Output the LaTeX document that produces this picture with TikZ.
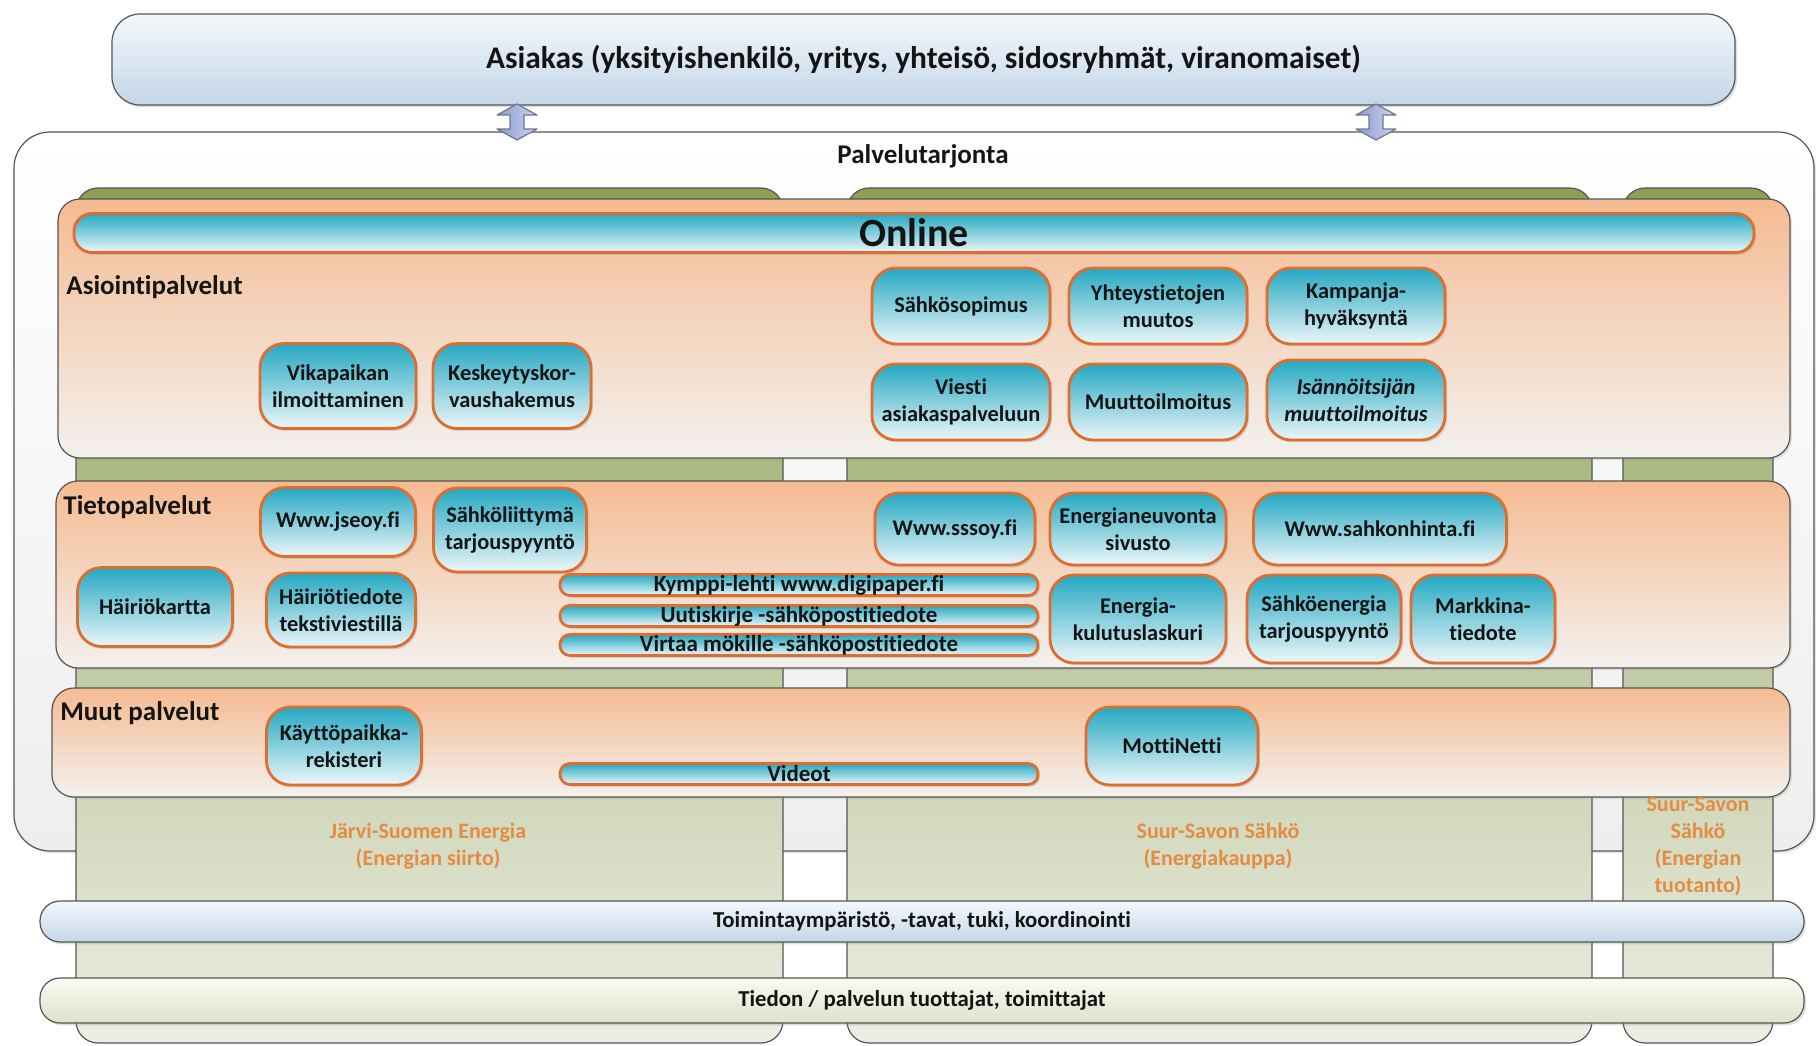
\documentclass[tikz,border=0pt]{standalone}
\usepackage{fontspec}
\setmainfont{Carlito}[Ligatures=NoCommon]
\usetikzlibrary{shadows}
\definecolor{tealtop}{RGB}{36,168,194}
\definecolor{tealbot}{RGB}{236,246,249}
\definecolor{boxline}{RGB}{222,110,48}
\definecolor{bandtop}{RGB}{245,187,146}
\definecolor{bandbot}{RGB}{243,241,238}
\definecolor{coltop}{RGB}{140,160,84}
\definecolor{colbot}{RGB}{236,238,228}
\definecolor{edgecol}{RGB}{85,85,85}
\definecolor{bluetop}{RGB}{244,248,252}
\definecolor{bluebot}{RGB}{196,214,232}
\definecolor{creamtop}{RGB}{250,250,242}
\definecolor{creambot}{RGB}{222,226,204}
\definecolor{palbot}{RGB}{238,238,238}
\definecolor{labelcol}{RGB}{226,140,68}
\definecolor{arrowtop}{RGB}{206,212,238}
\definecolor{arrowbot}{RGB}{140,154,206}
\definecolor{arrowline}{RGB}{110,118,150}
\definecolor{textcol}{RGB}{20,20,20}

\begin{document}
\begin{tikzpicture}[x=0.5pt,y=-0.5pt,
    tbox/.style={draw=boxline,line width=1.4pt,rounded corners=12pt,top color=tealtop,bottom color=tealbot,
      align=center,inner sep=1pt,text=textcol,font=\fontsize{11.2}{13.3}\selectfont\bfseries,
      drop shadow={shadow xshift=1pt,shadow yshift=-1.2pt,opacity=0.25}},
    bsize/.style 2 args={minimum width=#1,minimum height=#2},
    tbar/.style={tbox,rounded corners=5pt,inner sep=0pt,minimum width=239pt,minimum height=10.5pt,
      font=\fontsize{11.5}{13}\selectfont\bfseries},
    band/.style={draw=edgecol,line width=0.6pt,rounded corners=11pt,top color=bandtop,bottom color=bandbot,
      drop shadow={shadow xshift=1pt,shadow yshift=-1pt,opacity=0.2}},
    column/.style={draw=edgecol,line width=0.6pt,rounded corners=11pt,top color=coltop,bottom color=colbot},
    sect/.style={anchor=west,inner sep=0pt,text=textcol,font=\fontsize{13.5}{15}\selectfont\bfseries},
    colname/.style={align=center,text=labelcol,font=\fontsize{11}{13.5}\selectfont\bfseries},
    wide/.style={draw=edgecol,line width=0.6pt,rounded corners=10pt,inner sep=0pt,text=textcol,
      font=\fontsize{11.4}{13}\selectfont\bfseries,minimum width=882pt,
      drop shadow={shadow xshift=1pt,shadow yshift=-1.2pt,opacity=0.25}},
    dblarrow/.style={draw=arrowline,line width=0.6pt,left color=arrowbot,right color=arrowtop,line join=round}]
    \useasboundingbox (0,0) rectangle (1816,1045);
    % Draw service offering background
    \draw[draw=edgecol,line width=0.6pt,rounded corners=18pt,top color=white,bottom color=palbot,
      drop shadow={shadow xshift=1pt,shadow yshift=-1.2pt,opacity=0.2}] (14,132) rectangle (1814,851);
    \node[text=textcol,font=\fontsize{13.5}{15}\selectfont\bfseries] (offer) at (923,156) {Palvelutarjonta};
    % Draw company columns
    \draw[column] (76,188) rectangle (783,1043);
    \draw[column] (847,188) rectangle (1592,1043);
    \draw[column] (1623,188) rectangle (1773,1043);
    % Draw customer box and arrows
    \node[wide,rounded corners=14pt,top color=bluetop,bottom color=bluebot,
      font=\fontsize{15.7}{18}\selectfont\bfseries,bsize={811.5pt}{45.5pt}] (customer) at (923.5,59.5)
      {Asiakas (yksityishenkilö, yritys, yhteisö, sidosryhmät, viranomaiset)};
    \coordinate (arrL) at (517,122);
    \coordinate (arrR) at (1376,122);
    \foreach \a in {arrL,arrR}
      \draw[dblarrow] (\a) ++(0,-18) -- ++(20,11) -- ++(-13,0) -- ++(0,14) -- ++(13,0) -- ++(-20,11)
        -- ++(-20,-11) -- ++(13,0) -- ++(0,-14) -- ++(-13,0) -- cycle;
    % Draw service bands
    \draw[band] (58,199) rectangle (1790,458);
    \draw[band] (56,481) rectangle (1790,668);
    \draw[band] (52,688) rectangle (1790,797);
    \node[tbox,rounded corners=9pt,inner sep=0pt,bsize={840pt}{19.5pt},
      font=\fontsize{20}{20}\selectfont\bfseries] (online) at (914,233) {Online};
    \node[sect] (asiointi) at (66,287) {Asiointipalvelut};
    \node[sect] (tieto) at (63,507) {Tietopalvelut};
    \node[sect] (muut) at (60,713) {Muut palvelut};
    % Asiointipalvelut
    \node[tbox,bsize={89pt}{38pt}] (sopimus) at (961,306) {Sähkösopimus};
    \node[tbox,bsize={89pt}{38pt}] (yhteys) at (1158,306) {Yhteystietojen\\muutos};
    \node[tbox,bsize={89pt}{38pt}] (kampanja) at (1356,306) {Kampanja-\\hyväksyntä};
    \node[tbox,bsize={89pt}{38pt}] (viesti) at (961,402) {Viesti\\asiakaspalveluun};
    \node[tbox,bsize={89pt}{38pt}] (muutto) at (1158,402) {Muuttoilmoitus};
    \node[tbox,bsize={89pt}{40pt},font=\fontsize{11.2}{13.3}\selectfont\bfseries\itshape] (isannoitsija) at (1356,400)
      {Isännöitsijän\\muuttoilmoitus};
    \node[tbox,bsize={78pt}{42.5pt}] (vika) at (338,386) {Vikapaikan\\ilmoittaminen};
    \node[tbox,bsize={79pt}{42.5pt}] (korvaus) at (512,386) {Keskeytyskor-\\vaushakemus};
    % Tietopalvelut
    \node[tbox,bsize={77.5pt}{34.5pt}] (jseoy) at (338,522) {Www.jseoy.fi};
    \node[tbox,bsize={76.5pt}{42pt}] (liittyma) at (510,530) {Sähköliittymä\\tarjouspyyntö};
    \node[tbox,bsize={80pt}{36pt}] (sssoy) at (955,529) {Www.sssoy.fi};
    \node[tbox,bsize={88pt}{36pt}] (neuvonta) at (1138,529) {Energianeuvonta\\sivusto};
    \node[tbox,bsize={126.5pt}{36pt}] (hinta) at (1380,529) {Www.sahkonhinta.fi};
    \node[tbox,bsize={77.5pt}{39.5pt}] (kartta) at (155,607) {Häiriökartta};
    \node[tbox,bsize={74.5pt}{37pt}] (tiedote) at (341,610) {Häiriötiedote\\tekstiviestillä};
    \node[tbar] (kymppi) at (799,585) {Kymppi-lehti www.digipaper.fi};
    \node[tbar] (uutiskirje) at (799,616) {Uutiskirje -sähköpostitiedote};
    \node[tbar] (virtaa) at (799,645) {Virtaa mökille -sähköpostitiedote};
    \node[tbox,bsize={88pt}{44pt}] (laskuri) at (1138,619) {Energia-\\kulutuslaskuri};
    \node[tbox,bsize={77pt}{44pt}] (tarjous) at (1324,619) {Sähköenergia\\tarjouspyyntö};
    \node[tbox,bsize={72pt}{44pt}] (markkina) at (1483,619) {Markkina-\\tiedote};
    % Muut palvelut
    \node[tbox,bsize={77.5pt}{39pt}] (kaytto) at (344,746) {Käyttöpaikka-\\rekisteri};
    \node[tbar] (videot) at (799,774) {Videot};
    \node[tbox,bsize={86pt}{39pt}] (motti) at (1172,746) {MottiNetti};
    % Company names
    \node[colname] (jse) at (428,846) {Järvi-Suomen Energia\\(Energian siirto)};
    \node[colname] (sss) at (1218,846) {Suur-Savon Sähkö\\(Energiakauppa)};
    \node[colname] (sssprod) at (1698,846.5) {Suur-Savon\\Sähkö\\(Energian\\tuotanto)};
    % Draw bottom bars
    \node[wide,top color=bluetop,bottom color=bluebot,minimum height=20.5pt] (environment) at (922,921.5)
      {Toimintaympäristö, -tavat, tuki, koordinointi};
    \node[wide,top color=creamtop,bottom color=creambot,minimum height=22.5pt] (providers) at (922,1000.5)
      {Tiedon / palvelun tuottajat, toimittajat};
\end{tikzpicture}
\end{document}
